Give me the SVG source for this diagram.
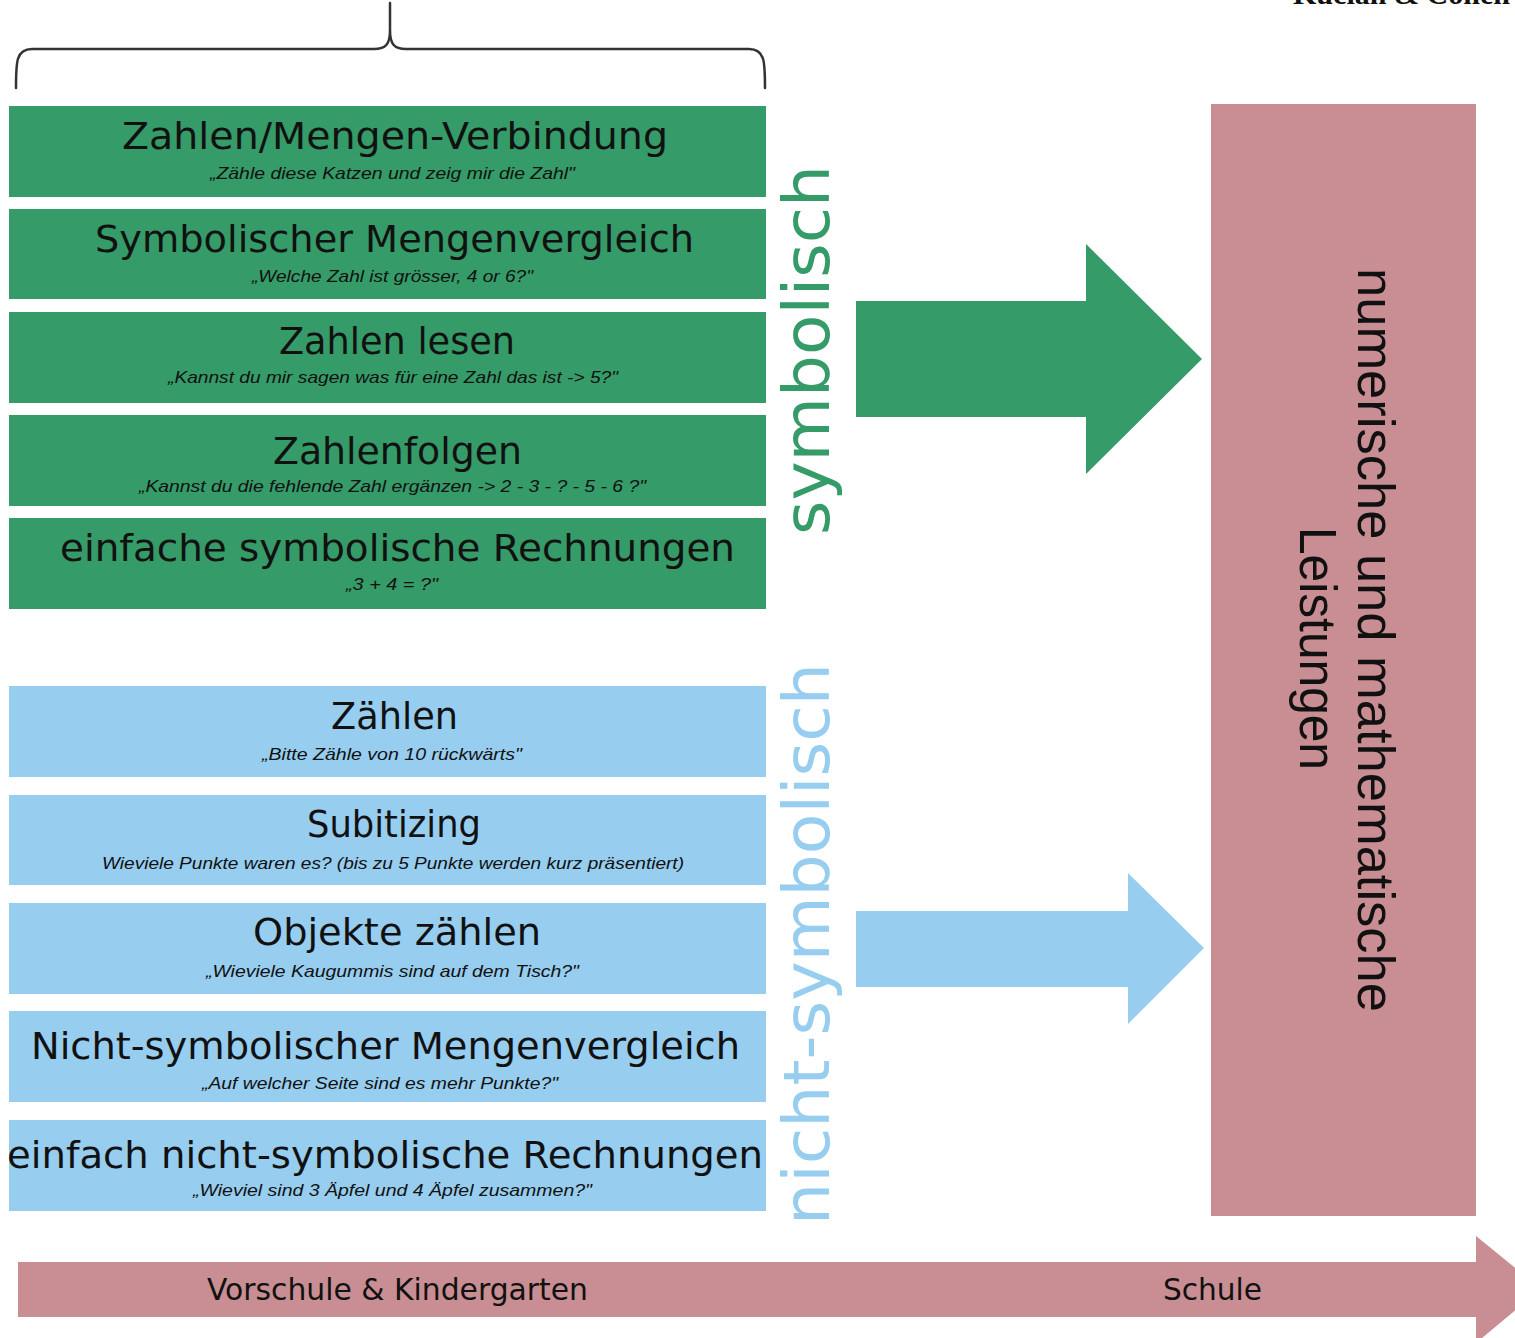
<svg xmlns="http://www.w3.org/2000/svg" width="1515" height="1338" viewBox="0 0 1515 1338">
<style>
.bg{fill:#ffffff}
.g{fill:#359B68}
.b{fill:#97CDEF}
.p{fill:#C98E93}
.t{font-family:"DejaVu Sans","Liberation Sans",sans-serif;font-size:38px;fill:#111111}
.s{font-family:"Liberation Sans",Arial,sans-serif;font-size:17px;font-style:italic;fill:#111111}
.v{font-family:"DejaVu Sans","Liberation Sans",sans-serif;font-size:64px}
.r{font-family:"Liberation Sans",Arial,sans-serif;font-size:52px;fill:#111111}
.a{font-family:"DejaVu Sans","Liberation Sans",sans-serif;font-size:30px;fill:#111111}
.brace{fill:none;stroke:#333333;stroke-width:2.5;stroke-linecap:round}
</style>
<rect class="bg" x="0" y="0" width="1515" height="1338"/>
<text x="1293" y="4" font-family="Liberation Serif, serif" font-size="30" font-weight="bold" fill="#111" textLength="217" lengthAdjust="spacingAndGlyphs">Kucian &amp; Cohen</text>
<path class="brace" d="M16,88 C16,62 16,49 32,49 L374,49 C386,49 390,44 390,30 L390,3 M390,30 C390,44 394,49 406,49 L749,49 C765,49 765,62 765,88"/>
<g id="sym-1"><rect class="g" x="9" y="106" width="757" height="91"/><text class="t" x="122" y="149" textLength="546" lengthAdjust="spacingAndGlyphs">Zahlen/Mengen-Verbindung</text><text class="s" x="210" y="179" textLength="365" lengthAdjust="spacingAndGlyphs">„Zähle diese Katzen und zeig mir die Zahl"</text></g>
<g id="sym-2"><rect class="g" x="9" y="209" width="757" height="90"/><text class="t" x="95" y="252" textLength="599" lengthAdjust="spacingAndGlyphs">Symbolischer Mengenvergleich</text><text class="s" x="252" y="282" textLength="281" lengthAdjust="spacingAndGlyphs">„Welche Zahl ist grösser, 4 or 6?"</text></g>
<g id="sym-3"><rect class="g" x="9" y="312" width="757" height="91"/><text class="t" x="279" y="354" textLength="236" lengthAdjust="spacingAndGlyphs">Zahlen lesen</text><text class="s" x="168" y="383" textLength="450" lengthAdjust="spacingAndGlyphs">„Kannst du mir sagen was für eine Zahl das ist -&gt; 5?"</text></g>
<g id="sym-4"><rect class="g" x="9" y="415" width="757" height="91"/><text class="t" x="273" y="464" textLength="249" lengthAdjust="spacingAndGlyphs">Zahlenfolgen</text><text class="s" x="139" y="492" textLength="507" lengthAdjust="spacingAndGlyphs">„Kannst du die fehlende Zahl ergänzen -&gt; 2 - 3 - ? - 5 - 6 ?"</text></g>
<g id="sym-5"><rect class="g" x="9" y="518" width="757" height="91"/><text class="t" x="60" y="561" textLength="675" lengthAdjust="spacingAndGlyphs">einfache symbolische Rechnungen</text><text class="s" x="346" y="590" textLength="92" lengthAdjust="spacingAndGlyphs">„3 + 4 = ?"</text></g>
<g id="nsym-1"><rect class="b" x="9" y="686" width="757" height="91"/><text class="t" x="331" y="729" textLength="127" lengthAdjust="spacingAndGlyphs">Zählen</text><text class="s" x="262" y="760" textLength="260" lengthAdjust="spacingAndGlyphs">„Bitte Zähle von 10 rückwärts"</text></g>
<g id="nsym-2"><rect class="b" x="9" y="795" width="757" height="90"/><text class="t" x="307" y="837" textLength="174" lengthAdjust="spacingAndGlyphs">Subitizing</text><text class="s" x="102" y="869" textLength="582" lengthAdjust="spacingAndGlyphs">Wieviele Punkte waren es? (bis zu 5 Punkte werden kurz präsentiert)</text></g>
<g id="nsym-3"><rect class="b" x="9" y="903" width="757" height="91"/><text class="t" x="253" y="945" textLength="288" lengthAdjust="spacingAndGlyphs">Objekte zählen</text><text class="s" x="206" y="977" textLength="373" lengthAdjust="spacingAndGlyphs">„Wieviele Kaugummis sind auf dem Tisch?"</text></g>
<g id="nsym-4"><rect class="b" x="9" y="1011" width="757" height="91"/><text class="t" x="31" y="1059" textLength="709" lengthAdjust="spacingAndGlyphs">Nicht-symbolischer Mengenvergleich</text><text class="s" x="202" y="1089" textLength="356" lengthAdjust="spacingAndGlyphs">„Auf welcher Seite sind es mehr Punkte?"</text></g>
<g id="nsym-5"><rect class="b" x="9" y="1120" width="757" height="91"/><text class="t" x="7" y="1168" textLength="756" lengthAdjust="spacingAndGlyphs">einfach nicht-symbolische Rechnungen</text><text class="s" x="193" y="1196" textLength="399" lengthAdjust="spacingAndGlyphs">„Wieviel sind 3 Äpfel und 4 Äpfel zusammen?"</text></g>
<g id="label-symbolisch"><text class="v" fill="#359B68" transform="translate(829,535) rotate(-90)" textLength="370" lengthAdjust="spacingAndGlyphs">symbolisch</text></g>
<g id="label-nicht-symbolisch"><text class="v" fill="#97CDEF" transform="translate(829,1225) rotate(-90)" textLength="562" lengthAdjust="spacingAndGlyphs">nicht-symbolisch</text></g>
<g id="outcome"><rect class="p" x="1211" y="104" width="265" height="1112"/><text class="r" transform="translate(1358,268) rotate(90)" textLength="744" lengthAdjust="spacingAndGlyphs">numerische und mathematische</text><text class="r" transform="translate(1300,527) rotate(90)" textLength="243" lengthAdjust="spacingAndGlyphs">Leistungen</text></g>
<g id="connectors">
<polygon class="g" points="856,301 1086,301 1086,244 1202,359 1086,474 1086,417 856,417"/>
<polygon class="b" points="856,911 1128,911 1128,873 1204,948 1128,1024 1128,987 856,987"/>
</g>
<g id="timeline"><polygon class="p" points="18,1262 1476,1262 1476,1236 1541,1289 1476,1343 1476,1317 18,1317"/><text class="a" x="207" y="1300" textLength="381" lengthAdjust="spacingAndGlyphs">Vorschule &amp; Kindergarten</text><text class="a" x="1163" y="1300" textLength="99" lengthAdjust="spacingAndGlyphs">Schule</text></g>
</svg>
